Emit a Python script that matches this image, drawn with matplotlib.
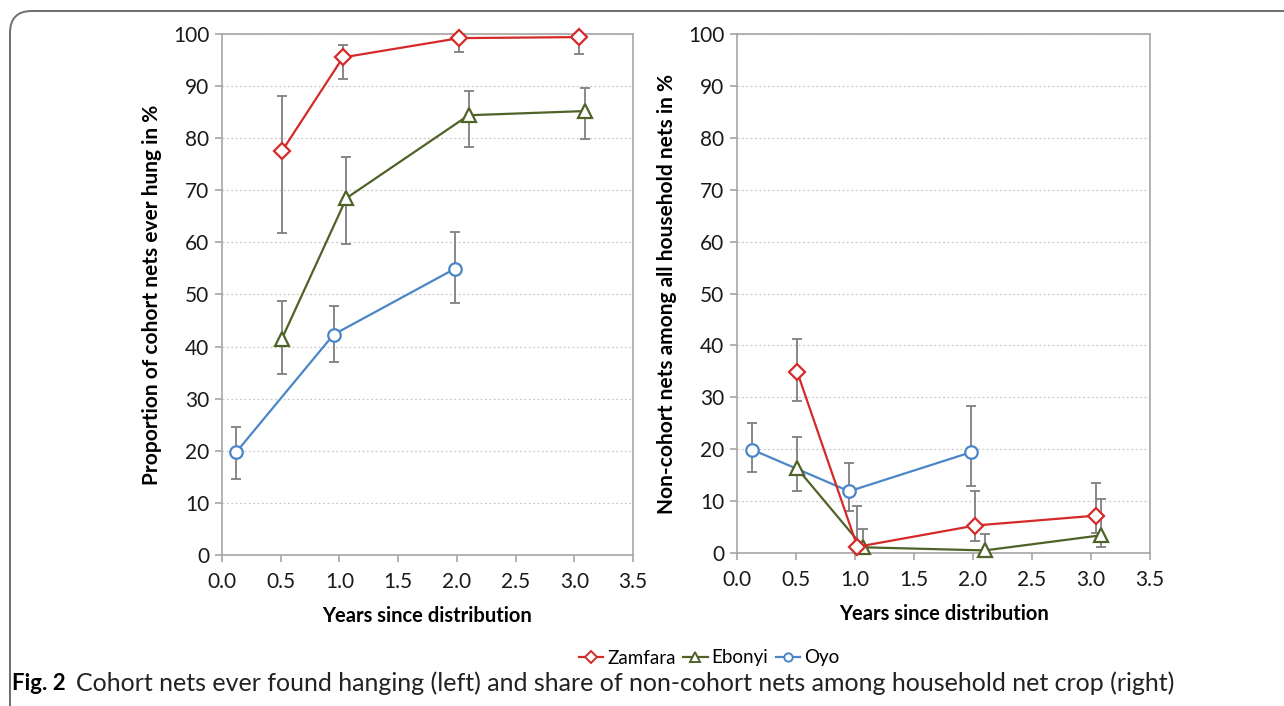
import numpy as np
import matplotlib.pyplot as plt
from matplotlib.patches import FancyBboxPatch
from matplotlib.lines import Line2D

plt.rcParams['font.family'] = ['Lato', 'DejaVu Sans']

# left panel: cohort nets ever hung (%)
zam_x_l = [0.51, 1.03, 2.02, 3.04]
zam_y_l = [77.5, 95.5, 99.2, 99.4]
zam_lo_l = [61.8, 91.4, 96.6, 96.2]
zam_hi_l = [88.1, 97.8, 100.0, 100.0]

ebo_x_l = [0.51, 1.06, 2.10, 3.09]
ebo_y_l = [41.5, 68.5, 84.4, 85.2]
ebo_lo_l = [34.8, 59.6, 78.3, 79.8]
ebo_hi_l = [48.7, 76.3, 89.0, 89.6]

oyo_x_l = [0.12, 0.95, 1.98]
oyo_y_l = [19.7, 42.3, 54.9]
oyo_lo_l = [14.5, 37.1, 48.3]
oyo_hi_l = [24.5, 47.7, 61.9]

# right panel: non-cohort nets among household nets (%)
zam_x_r = [0.51, 1.02, 2.02, 3.04]
zam_y_r = [34.9, 1.2, 5.3, 7.2]
zam_lo_r = [29.2, 0.0, 2.4, 3.8]
zam_hi_r = [41.3, 9.0, 12.0, 13.5]

ebo_x_r = [0.51, 1.07, 2.10, 3.08]
ebo_y_r = [16.3, 1.1, 0.5, 3.4]
ebo_lo_r = [11.9, 0.0, 0.0, 1.1]
ebo_hi_r = [22.4, 4.7, 3.7, 10.4]

oyo_x_r = [0.13, 0.95, 1.98]
oyo_y_r = [19.9, 11.9, 19.4]
oyo_lo_r = [15.6, 8.0, 12.9]
oyo_hi_r = [25.0, 17.3, 28.3]

red = "#d42a2a"
green = "#4f6228"
blue = "#4a86c8"
errc = "#7f7f7f"
spc = "#a6a6a6"


def draw_series(ax, x, y, lo, hi, color, marker, ms):
    y = np.array(y)
    yerr = [y - np.array(lo), np.array(hi) - y]
    ax.errorbar(x, y, yerr=yerr, fmt="none", ecolor=errc, elinewidth=1.3,
                capsize=3.5, capthick=1.3, zorder=2, clip_on=False)
    ax.plot(x, y, color=color, lw=1.6, marker=marker, ms=ms,
            mfc="white", mec=color, mew=1.6, zorder=3, clip_on=False)


def style_axes(ax, ylabel):
    ax.set_xlim(0, 3.5)
    ax.set_ylim(0, 100)
    ax.set_xticks(np.arange(0, 3.51, 0.5))
    ax.set_xticklabels([f"{v:.1f}" for v in np.arange(0, 3.51, 0.5)])
    ax.set_yticks(np.arange(0, 101, 10))
    ax.yaxis.grid(True, ls=(0, (1.5, 2)), color="#c8c8c8", lw=0.9)
    ax.set_axisbelow(True)
    for s in ax.spines.values():
        s.set_color(spc)
        s.set_linewidth(1.2)
    ax.tick_params(axis="both", colors=spc, length=5, width=1.2,
                   labelsize=15, labelcolor="#1a1a1a")
    ax.tick_params(axis="x", pad=7)
    ax.tick_params(axis="y", pad=4)
    ax.set_xlabel("Years since distribution", fontsize=14.5,
                  fontweight="bold", labelpad=10)
    ax.set_ylabel(ylabel, fontsize=15, fontweight="bold", labelpad=8)


fig = plt.figure(figsize=(12.84, 7.06), dpi=100)

ax1 = fig.add_axes([0.1729, 0.2139, 0.3201, 0.738])
ax2 = fig.add_axes([0.574, 0.2167, 0.3217, 0.735])

draw_series(ax1, oyo_x_l, oyo_y_l, oyo_lo_l, oyo_hi_l, blue, "o", 9)
draw_series(ax1, ebo_x_l, ebo_y_l, ebo_lo_l, ebo_hi_l, green, "^", 10)
draw_series(ax1, zam_x_l, zam_y_l, zam_lo_l, zam_hi_l, red, "D", 8)
style_axes(ax1, "Proportion of cohort nets ever hung in %")

draw_series(ax2, oyo_x_r, oyo_y_r, oyo_lo_r, oyo_hi_r, blue, "o", 9)
draw_series(ax2, ebo_x_r, ebo_y_r, ebo_lo_r, ebo_hi_r, green, "^", 10)
draw_series(ax2, zam_x_r, zam_y_r, zam_lo_r, zam_hi_r, red, "D", 8)
style_axes(ax2, "Non-cohort nets among all household nets in %")

handles = [
    Line2D([], [], color=red, lw=1.6, marker="D", ms=6, mfc="white", mec=red, mew=1.4),
    Line2D([], [], color=green, lw=1.6, marker="^", ms=7, mfc="white", mec=green, mew=1.4),
    Line2D([], [], color=blue, lw=1.6, marker="o", ms=6, mfc="white", mec=blue, mew=1.4),
]
fig.legend(handles, ["Zamfara", "Ebonyi", "Oyo"], loc="center",
           bbox_to_anchor=(709 / 1284, 1 - 658 / 706), ncol=3, frameon=False,
           fontsize=13.5, handlelength=1.3, handletextpad=0.2, columnspacing=0.4)

# caption
fig.text(12 / 1284, 1 - 683 / 706, "Fig. 2", fontsize=16, fontweight="bold",
         va="center", ha="left")
fig.text(76 / 1284, 1 - 683 / 706,
         "Cohort nets ever found hanging (left) and share of non-cohort nets among household net crop (right)",
         fontsize=18, va="center", ha="left", color="#222222")

# outer rounded frame, running off the right and bottom edges
frame = FancyBboxPatch((10 / 1284, -0.1), 1.2, 1 - 11 / 706 + 0.1,
                       boxstyle="round,pad=0,rounding_size=0.017",
                       transform=fig.transFigure, fill=False,
                       ec="#6e6e6e", lw=1.4, mutation_aspect=1284 / 706)
fig.add_artist(frame)

fig.savefig("out.png", dpi=100)
